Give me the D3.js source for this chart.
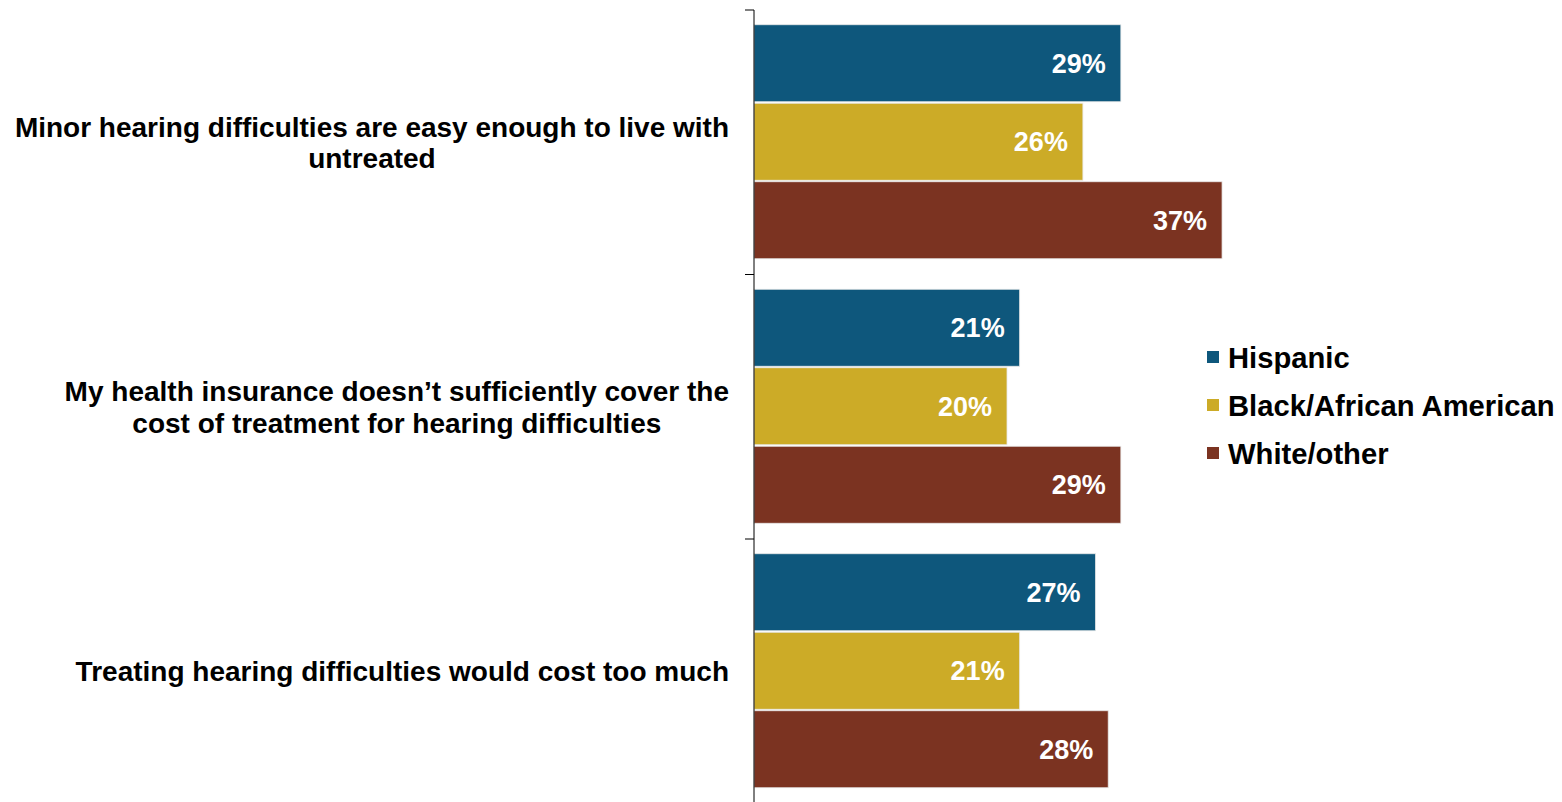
<!DOCTYPE html>
<html>
<head>
<meta charset="utf-8">
<script src="https://cdn.jsdelivr.net/npm/d3@7"></script>
<style>
  html, body { margin: 0; padding: 0; background: #fff; }
  svg { display: block; }
  text { font-family: "Liberation Sans", Arial, sans-serif; font-weight: bold; }
</style>
</head>
<body>
<svg id="chart" width="1562" height="802"></svg>
<script>
const categories = [
  ["Minor hearing difficulties are easy enough to live with", "untreated"],
  ["My health insurance doesn\u2019t sufficiently cover the", "cost of treatment for hearing difficulties"],
  ["Treating hearing difficulties would cost too much"]
];
const seriesNames = ["Hispanic", "Black/African American", "White/other"];
const hispanic = [29, 21, 27];
const black = [26, 20, 21];
const white = [37, 29, 28];
const colors = ["#0e577c", "#ccab27", "#7b3321"];

const seriesValues = [hispanic, black, white];
const svg = d3.select("#chart");

const axisX = 754;
const y0 = d3.scaleBand().domain(d3.range(categories.length)).range([10, 803.5]).paddingInner(0).paddingOuter(0);
const y1 = d3.scaleBand().domain(d3.range(seriesNames.length)).range([14, y0.bandwidth() - 15]).padding(0);
const x = d3.scaleLinear().domain([0, 40]).range([axisX, axisX + 506]);

// bars
const groups = svg.selectAll("g.cat").data(categories).join("g")
  .attr("class", "cat")
  .attr("transform", (d, i) => `translate(0,${y0(i)})`);

groups.each(function(d, ci) {
  const g = d3.select(this);
  seriesNames.forEach((s, si) => {
    const v = seriesValues[si][ci];
    g.append("rect")
      .attr("x", x(0))
      .attr("y", y1(si) + 0.75)
      .attr("width", x(v) - x(0))
      .attr("height", y1.bandwidth() - 1.5)
      .attr("fill", colors[si])
      .attr("stroke", "#e8e8e8")
      .attr("stroke-width", 0.8);
    g.append("text")
      .attr("x", x(v) - 15)
      .attr("y", y1(si) + y1.bandwidth() / 2)
      .attr("dy", "0.36em")
      .attr("text-anchor", "end")
      .attr("fill", "#ffffff")
      .style("font-size", "27px")
      .text(v + "%");
  });
});

// axis
const axisG = svg.append("g").attr("transform", `translate(${axisX},0)`);
axisG.append("line").attr("x1", 0).attr("x2", 0).attr("y1", 10).attr("y2", 803.5)
  .attr("stroke", "#000").attr("stroke-width", 1);
const tickPos = [10].concat(d3.range(categories.length).map(i => y0(i) + y0.bandwidth())).filter(v => v < 800);
axisG.selectAll("line.tick").data(tickPos).join("line")
  .attr("class", "tick")
  .attr("x1", -9).attr("x2", 0)
  .attr("y1", d => d).attr("y2", d => d)
  .attr("stroke", "#000").attr("stroke-width", 1);

// category labels
const labelRight = 729;
const lineH = 31.5;
const labG = svg.append("g");
categories.forEach((lines, i) => {
  const t = labG.append("text")
    .style("font-size", "28px")
    .attr("fill", "#000")
    .attr("text-anchor", "middle");
  const cy = y0(i) + y0.bandwidth() / 2;
  const startY = cy - (lines.length - 1) * lineH / 2;
  lines.forEach((ln, j) => {
    t.append("tspan").attr("y", startY + j * lineH).attr("dy", "0.36em").text(ln);
  });
  let maxW = 0;
  t.selectAll("tspan").each(function() { maxW = Math.max(maxW, this.getComputedTextLength()); });
  const cx = labelRight - maxW / 2;
  t.selectAll("tspan").attr("x", cx);
});

// legend
const legend = svg.append("g").attr("transform", "translate(1207,357)");
seriesNames.forEach((s, i) => {
  const g = legend.append("g").attr("transform", `translate(0,${i * 48})`);
  g.append("rect").attr("x", 0).attr("y", -6).attr("width", 12).attr("height", 12).attr("fill", colors[i]);
  g.append("text").attr("x", 21).attr("y", 0).attr("dy", "0.36em")
    .style("font-size", "29.2px").attr("fill", "#000").text(s);
});
</script>
</body>
</html>
